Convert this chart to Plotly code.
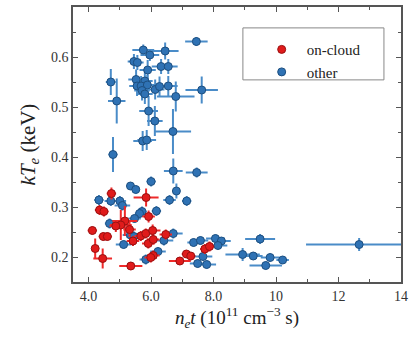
import plotly.graph_objects as go

# on-cloud points (n_e t in 1e11 cm^-3 s, kT_e in keV)
red_x = [4.73, 5.84, 4.35, 4.49, 5.92, 5.16, 5.03, 4.87, 4.12, 5.31,
         4.47, 4.60, 5.42, 5.67, 5.83, 6.05, 5.91, 6.07, 6.47, 4.21,
         4.45, 6.07, 5.99, 5.35, 6.92, 7.13, 7.27, 7.72, 7.87]
red_y = [0.327, 0.319, 0.294, 0.291, 0.281, 0.272, 0.264, 0.262, 0.253, 0.255,
         0.241, 0.241, 0.232, 0.242, 0.247, 0.253, 0.227, 0.235, 0.245, 0.217,
         0.197, 0.203, 0.199, 0.182, 0.192, 0.206, 0.202, 0.216, 0.221]
red_xerr = [0.15, 0.40, 0.15, 0.15, 0.20, 0.40, 0.35, 0.20, 0.15, 0.20,
            0.15, 0.15, 0.20, 0.20, 0.20, 0.25, 0.20, 0.20, 0.20, 0.10,
            0.30, 0.20, 0.20, 0.37, 0.35, 0.15, 0.15, 0.15, 0.15]
red_yerr = [0.012, 0.018, 0.010, 0.010, 0.012, 0.030, 0.030, 0.012, 0.008, 0.015,
            0.008, 0.008, 0.010, 0.010, 0.010, 0.012, 0.010, 0.010, 0.010, 0.020,
            0.020, 0.010, 0.010, 0.008, 0.008, 0.008, 0.008, 0.010, 0.010]

# other points
blue_x = [7.45, 5.75, 5.96, 6.45, 5.45, 5.56, 6.32, 6.55, 5.89, 4.71,
          5.52, 5.80, 5.55, 5.68, 5.88, 5.71, 5.80, 6.13, 6.27, 6.55,
          7.62, 4.90, 6.79, 5.92, 6.12, 6.70, 5.73, 5.86, 4.78, 6.71,
          7.46, 6.00, 6.81, 5.34, 5.51, 6.59, 7.14, 4.33, 4.71, 5.00,
          5.08, 6.17, 5.71, 5.63, 5.47, 4.67, 5.34, 5.45, 6.41, 6.71,
          5.12, 6.22, 5.83, 7.66, 7.49, 7.78, 7.36, 7.58, 8.06, 8.25,
          8.14, 8.93, 9.49, 9.27, 9.81, 10.21, 9.67, 12.66]
blue_y = [0.631, 0.614, 0.604, 0.612, 0.591, 0.589, 0.581, 0.581, 0.574, 0.550,
          0.555, 0.552, 0.542, 0.542, 0.544, 0.533, 0.526, 0.535, 0.541, 0.542,
          0.534, 0.512, 0.521, 0.492, 0.472, 0.451, 0.432, 0.434, 0.405, 0.372,
          0.369, 0.351, 0.332, 0.342, 0.335, 0.314, 0.312, 0.314, 0.312, 0.312,
          0.303, 0.292, 0.291, 0.287, 0.277, 0.267, 0.244, 0.241, 0.233, 0.247,
          0.225, 0.211, 0.195, 0.201, 0.187, 0.185, 0.229, 0.233, 0.237, 0.232,
          0.223, 0.205, 0.236, 0.202, 0.199, 0.194, 0.183, 0.225]
blue_xerr = [0.36, 0.35, 0.30, 0.43, 0.20, 0.20, 0.30, 0.30, 0.26, 0.16,
             0.25, 0.25, 0.25, 0.25, 0.30, 0.25, 0.25, 0.30, 0.25, 0.30,
             0.52, 0.28, 0.60, 0.30, 0.25, 0.58, 0.30, 0.30, 0.15, 0.30,
             0.35, 0.15, 0.10, 0.12, 0.12, 0.20, 0.15, 0.15, 0.20, 0.20,
             0.25, 0.15, 0.15, 0.15, 0.20, 0.15, 0.25, 0.25, 0.30, 0.30,
             0.25, 0.25, 0.20, 0.30, 0.25, 0.30, 0.20, 0.25, 0.30, 0.30,
             0.30, 0.55, 0.48, 0.30, 0.30, 0.20, 0.52, 1.70]
blue_yerr = [0.009, 0.011, 0.012, 0.017, 0.015, 0.015, 0.015, 0.015, 0.020, 0.026,
             0.020, 0.020, 0.020, 0.020, 0.020, 0.020, 0.020, 0.020, 0.020, 0.020,
             0.027, 0.045, 0.030, 0.030, 0.030, 0.045, 0.020, 0.020, 0.035, 0.025,
             0.010, 0.010, 0.015, 0.008, 0.008, 0.010, 0.010, 0.010, 0.010, 0.010,
             0.010, 0.010, 0.010, 0.010, 0.008, 0.010, 0.010, 0.010, 0.010, 0.010,
             0.008, 0.008, 0.010, 0.008, 0.008, 0.008, 0.008, 0.008, 0.008, 0.008,
             0.008, 0.013, 0.010, 0.008, 0.008, 0.008, 0.008, 0.013]

x_ticks = [4, 6, 8, 10, 12, 14]
x_ticktext = ["4.0", "6.0", "8.0", "10", "12", "14"]
y_ticks = [0.2, 0.3, 0.4, 0.5, 0.6, 0.7]

FONT = "Times New Roman, Liberation Serif, DejaVu Serif, serif"

fig = go.Figure()

fig.add_trace(go.Scatter(
    x=blue_x, y=blue_y, mode="markers", name="other",
    error_x=dict(type="data", array=blue_xerr, color="#4a8cc8", thickness=2, width=0),
    error_y=dict(type="data", array=blue_yerr, color="#4a8cc8", thickness=2, width=0),
    marker=dict(size=8, color="#2f72b4", line=dict(color="#1d4f80", width=1)),
))
fig.add_trace(go.Scatter(
    x=red_x, y=red_y, mode="markers", name="on-cloud",
    error_x=dict(type="data", array=red_xerr, color="#ee2a2a", thickness=2, width=0),
    error_y=dict(type="data", array=red_yerr, color="#ee2a2a", thickness=2, width=0),
    marker=dict(size=8, color="#e01b1b", line=dict(color="#9a1010", width=1)),
))

axis_common = dict(
    showline=True, linecolor="#555555", linewidth=1.5, mirror="ticks",
    ticks="inside", ticklen=5, tickcolor="#555555", showgrid=False, zeroline=False,
    automargin=False,
    tickfont=dict(family=FONT, size=14, color="#333333"),
)

fig.update_xaxes(
    range=[3.5, 14], tickvals=x_ticks, ticktext=x_ticktext,
    minor=dict(dtick=1, ticks="inside", ticklen=3, tickcolor="#555555"),
    title=dict(text="<i>n<sub>e</sub>t</i> (10<sup>11</sup> cm<sup>−3</sup> s)",
               font=dict(family=FONT, size=19, color="#222222"), standoff=8),
    **axis_common,
)
fig.update_yaxes(
    range=[0.15, 0.7], tickvals=y_ticks, tickformat=".1f",
    minor=dict(dtick=0.05, tick0=0.15, ticks="inside", ticklen=3, tickcolor="#555555"),
    title=dict(text="<i>kT<sub>e</sub></i> (keV)",
               font=dict(family=FONT, size=21, color="#222222"), standoff=10),
    **axis_common,
)

# legend frame
fig.add_shape(type="rect", xref="paper", yref="paper",
              x0=0.518, x1=0.948, y0=0.735, y1=0.924,
              line=dict(color="#888888", width=1), fillcolor="white", layer="below")

fig.update_layout(
    width=409, height=343,
    margin=dict(l=73, r=8, t=7, b=61),
    plot_bgcolor="white", paper_bgcolor="white",
    font=dict(family=FONT, color="#222222"),
    legend=dict(
        x=0.56, y=0.905, xanchor="left", yanchor="top",
        borderwidth=0, bgcolor="rgba(0,0,0,0)",
        font=dict(family=FONT, size=15, color="#222222"),
        traceorder="reversed", itemwidth=40, tracegroupgap=0,
    ),
)

fig.write_html("out.html", config={"displayModeBar": False},
               post_script="document.body.style.margin='0';")
